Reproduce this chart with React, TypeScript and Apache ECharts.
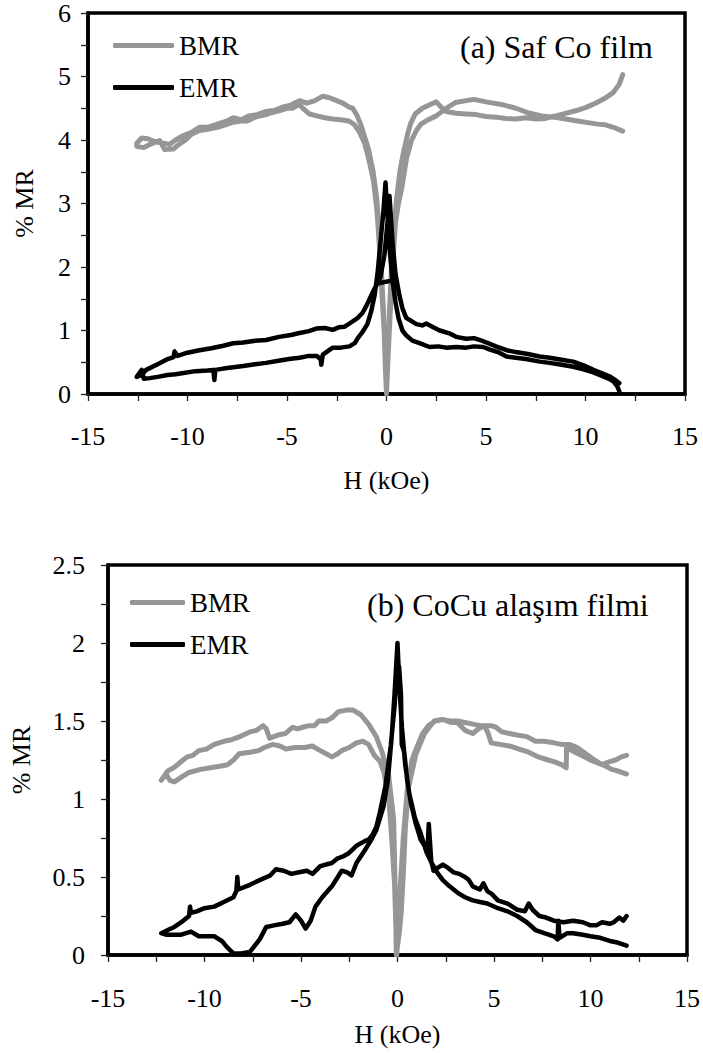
import React, { useEffect, useRef } from "react";
import * as echarts from "echarts";

// ---------- data: H (kOe), %MR ----------
const seriesNames = ["BMR", "EMR"];
const titleA = "(a) Saf Co film";
const titleB = "(b) CoCu alaşım filmi";
const xName = "H (kOe)";
const yName = "% MR";

// (a) top chart, BMR: sweep from +H to -H, then back
const tBmrDown: [number, number][] = [
  [11.87, 5.03], [11.7, 4.88], [11.4, 4.75], [11.0, 4.66], [10.5, 4.58], [10.0, 4.51], [9.5, 4.46],
  [9.0, 4.42], [8.5, 4.38], [8.0, 4.34], [7.5, 4.33], [7.0, 4.35], [6.5, 4.33], [6.0, 4.34], [5.5, 4.36],
  [5.0, 4.37], [4.5, 4.4], [4.0, 4.41], [3.5, 4.42], [3.0, 4.45], [2.8, 4.5], [2.5, 4.6], [2.2, 4.56],
  [1.8, 4.5], [1.44, 4.41], [1.2, 4.25], [1.06, 4.09], [0.85, 3.8], [0.67, 3.5], [0.5, 3.05], [0.38, 2.63],
  [0.25, 2.0], [0.15, 1.3], [0.05, 0.4], [0.0, 0.0], [-0.05, 0.35], [-0.12, 1.0], [-0.23, 1.58],
  [-0.35, 2.3], [-0.48, 2.89], [-0.65, 3.35], [-0.87, 3.67], [-1.1, 3.95], [-1.35, 4.12], [-1.6, 4.24],
  [-1.9, 4.3], [-2.3, 4.32], [-2.7, 4.33], [-3.1, 4.35], [-3.5, 4.38], [-3.87, 4.41], [-4.1, 4.47],
  [-4.4, 4.56], [-4.7, 4.5], [-5.0, 4.5], [-5.4, 4.46], [-5.8, 4.43], [-6.05, 4.4], [-6.6, 4.36],
  [-7.0, 4.3], [-7.3, 4.3], [-7.7, 4.28], [-8.1, 4.24], [-8.5, 4.2], [-9.0, 4.17], [-9.4, 4.15],
  [-9.8, 4.09], [-10.1, 4.0], [-10.4, 3.94], [-10.7, 3.86], [-11.15, 3.85], [-11.4, 3.99], [-11.9, 3.93],
  [-12.2, 3.88], [-12.55, 3.9],
];
const tBmrUp: [number, number][] = [
  [-12.55, 3.95], [-12.3, 4.03], [-12.0, 4.02], [-11.6, 3.97], [-11.2, 3.95], [-10.9, 3.93], [-10.6, 4.0],
  [-10.2, 4.07], [-9.8, 4.12], [-9.4, 4.2], [-9.0, 4.2], [-8.5, 4.25], [-8.0, 4.3], [-7.7, 4.35],
  [-7.3, 4.32], [-6.9, 4.38], [-6.5, 4.4], [-6.05, 4.45], [-5.6, 4.47], [-5.2, 4.52], [-4.8, 4.55],
  [-4.37, 4.62], [-4.0, 4.58], [-3.6, 4.62], [-3.2, 4.69], [-2.9, 4.67], [-2.5, 4.62], [-2.2, 4.58],
  [-1.9, 4.52], [-1.7, 4.5], [-1.5, 4.4], [-1.3, 4.25], [-1.1, 4.05], [-0.9, 3.85], [-0.67, 3.5],
  [-0.5, 3.1], [-0.38, 2.63], [-0.25, 1.9], [-0.15, 1.3], [-0.06, 0.5], [0.0, 0.0], [0.08, 0.6],
  [0.19, 1.3], [0.3, 2.0], [0.45, 2.7], [0.6, 3.0], [0.77, 3.25], [1.0, 3.7], [1.25, 3.99], [1.5, 4.15],
  [1.73, 4.25], [2.1, 4.32], [2.5, 4.38], [3.0, 4.5], [3.46, 4.59], [4.0, 4.62], [4.4, 4.64], [5.0, 4.6],
  [5.77, 4.56], [6.5, 4.5], [7.1, 4.43], [7.8, 4.38], [8.4, 4.36], [9.0, 4.33], [9.6, 4.3], [10.2, 4.27],
  [10.6, 4.25], [11.0, 4.24], [11.4, 4.2], [11.87, 4.14],
];

// (a) top chart, EMR
const tEmrDown: [number, number][] = [
  [11.7, 0.17], [11.5, 0.22], [11.2, 0.28], [10.8, 0.33], [10.4, 0.38], [9.9, 0.45], [9.38, 0.51],
  [8.8, 0.54], [8.2, 0.57], [7.7, 0.59], [7.1, 0.63], [6.5, 0.66], [6.03, 0.69], [5.5, 0.75], [5.1, 0.8],
  [4.7, 0.85], [4.4, 0.88], [4.0, 0.87], [3.5, 0.9], [3.2, 0.95], [2.9, 0.98], [2.67, 1.0], [2.3, 1.06],
  [2.0, 1.11], [1.8, 1.08], [1.5, 1.1], [1.2, 1.16], [0.99, 1.2], [0.8, 1.35], [0.65, 1.55], [0.45, 1.9],
  [0.3, 2.4], [0.15, 3.12], [0.05, 2.7], [-0.1, 2.2], [-0.3, 1.85], [-0.45, 1.74], [0.3, 1.79],
  [-0.45, 1.74], [-0.6, 1.66], [-0.77, 1.55], [-0.96, 1.42], [-1.2, 1.28], [-1.44, 1.2], [-1.86, 1.11],
  [-2.1, 1.06], [-2.4, 1.05], [-2.7, 1.01], [-3.1, 1.04], [-3.53, 1.03], [-3.9, 0.99], [-4.37, 0.96],
  [-4.8, 0.93], [-5.4, 0.9], [-6.05, 0.85], [-6.6, 0.84], [-7.2, 0.81], [-7.7, 0.8], [-8.2, 0.76],
  [-8.8, 0.72], [-9.4, 0.69], [-10.0, 0.65], [-10.5, 0.6], [-10.65, 0.67], [-10.7, 0.58], [-11.07, 0.54],
  [-11.5, 0.47], [-12.08, 0.38], [-12.3, 0.3], [-12.55, 0.27],
];
const tEmrUp: [number, number][] = [
  [-12.55, 0.27], [-12.3, 0.38], [-12.2, 0.24], [-11.9, 0.25], [-11.5, 0.27], [-11.0, 0.3], [-10.6, 0.31],
  [-10.2, 0.33], [-9.6, 0.36], [-9.0, 0.37], [-8.7, 0.38], [-8.65, 0.22], [-8.6, 0.38], [-8.2, 0.4],
  [-7.7, 0.42], [-7.2, 0.44], [-6.6, 0.47], [-6.05, 0.49], [-5.5, 0.52], [-4.9, 0.55], [-4.37, 0.57],
  [-3.9, 0.6], [-3.5, 0.6], [-3.3, 0.54], [-3.28, 0.46], [-3.2, 0.62], [-2.7, 0.73], [-2.3, 0.73],
  [-1.86, 0.75], [-1.6, 0.8], [-1.44, 0.88], [-1.2, 0.98], [-0.96, 1.1], [-0.77, 1.3], [-0.6, 1.55],
  [-0.45, 1.9], [-0.3, 2.4], [-0.15, 2.9], [-0.05, 3.33], [0.05, 2.8], [0.15, 2.3], [0.3, 1.79],
  [0.45, 1.45], [0.6, 1.2], [0.8, 1.0], [1.0, 0.92], [1.3, 0.84], [1.66, 0.8], [2.16, 0.74], [2.6, 0.75],
  [3.0, 0.73], [3.5, 0.74], [4.0, 0.73], [4.4, 0.75], [4.86, 0.74], [5.2, 0.7], [5.6, 0.66], [6.03, 0.59],
  [6.5, 0.57], [7.0, 0.55], [7.7, 0.51], [8.2, 0.49], [8.8, 0.46], [9.38, 0.43], [9.9, 0.39], [10.3, 0.35],
  [10.7, 0.3], [11.1, 0.25], [11.4, 0.2], [11.6, 0.12], [11.7, 0.04],
];

// (b) bottom chart, BMR
const bBmrDown: [number, number][] = [
  [11.87, 1.28], [11.6, 1.27], [11.3, 1.25], [11.0, 1.24], [10.6, 1.22], [10.2, 1.25], [9.65, 1.3],
  [9.3, 1.33], [8.9, 1.35], [8.5, 1.35], [8.1, 1.36], [7.6, 1.37], [7.15, 1.37], [6.7, 1.4], [6.2, 1.41],
  [5.8, 1.42], [5.4, 1.43], [5.1, 1.46], [4.85, 1.47], [4.5, 1.47], [4.27, 1.47], [3.9, 1.48], [3.5, 1.49],
  [3.1, 1.5], [2.73, 1.5], [2.3, 1.51], [1.9, 1.5], [1.4, 1.42], [0.96, 1.29], [0.56, 1.07], [0.4, 0.8],
  [0.31, 0.54], [0.19, 0.27], [0.1, 0.15], [-0.06, 0.0], [-0.1, 0.3], [-0.2, 0.87], [-0.46, 1.15],
  [-0.8, 1.3], [-1.1, 1.4], [-1.5, 1.48], [-1.9, 1.54], [-2.3, 1.57], [-2.65, 1.57], [-3.06, 1.56],
  [-3.4, 1.52], [-3.7, 1.5], [-4.08, 1.5], [-4.3, 1.47], [-4.6, 1.47], [-4.9, 1.46], [-5.2, 1.45],
  [-5.44, 1.46], [-5.8, 1.42], [-6.2, 1.41], [-6.63, 1.39], [-6.8, 1.45], [-6.97, 1.47], [-7.3, 1.44],
  [-7.65, 1.43], [-8.16, 1.4], [-8.6, 1.38], [-9.0, 1.37], [-9.5, 1.35], [-9.9, 1.32], [-10.3, 1.31],
  [-10.6, 1.28], [-10.9, 1.27], [-11.2, 1.24], [-11.6, 1.2], [-11.9, 1.18], [-12.24, 1.12],
];
const bBmrUp: [number, number][] = [
  [-12.24, 1.12], [-12.0, 1.16], [-11.8, 1.12], [-11.56, 1.11], [-11.2, 1.14], [-10.8, 1.17],
  [-10.2, 1.19], [-9.7, 1.2], [-9.2, 1.21], [-8.8, 1.22], [-8.5, 1.25], [-8.2, 1.29], [-7.65, 1.3],
  [-7.2, 1.31], [-6.9, 1.33], [-6.46, 1.35], [-6.1, 1.34], [-5.78, 1.32], [-5.3, 1.33], [-4.8, 1.33],
  [-4.42, 1.34], [-4.0, 1.31], [-3.7, 1.29], [-3.4, 1.27], [-3.1, 1.29], [-2.89, 1.31], [-2.5, 1.33],
  [-2.13, 1.36], [-1.8, 1.37], [-1.5, 1.35], [-1.2, 1.28], [-0.9, 1.24], [-0.7, 1.17], [-0.45, 1.0],
  [-0.3, 0.75], [-0.15, 0.45], [-0.04, 0.0], [0.05, 0.2], [0.15, 0.45], [0.3, 0.75], [0.5, 1.05],
  [0.75, 1.25], [1.0, 1.33], [1.3, 1.42], [1.6, 1.47], [1.96, 1.5], [2.35, 1.51], [2.8, 1.49], [3.1, 1.49],
  [3.5, 1.44], [3.9, 1.42], [4.2, 1.45], [4.5, 1.47], [4.7, 1.42], [4.85, 1.36], [5.3, 1.35], [5.8, 1.34],
  [6.3, 1.32], [6.8, 1.3], [7.3, 1.27], [7.8, 1.25], [8.1, 1.24], [8.5, 1.22], [8.74, 1.2], [8.76, 1.33],
  [9.2, 1.3], [9.7, 1.27], [10.0, 1.25], [10.4, 1.23], [10.8, 1.21], [11.1, 1.19], [11.4, 1.18],
  [11.87, 1.16],
];

// (b) bottom chart, EMR
const bEmrDown: [number, number][] = [
  [11.87, 0.25], [11.7, 0.22], [11.5, 0.24], [11.2, 0.21], [11.0, 0.2], [10.6, 0.21], [10.3, 0.19],
  [10.0, 0.19], [9.6, 0.21], [9.1, 0.22], [8.6, 0.21], [8.1, 0.22], [7.7, 0.24], [7.35, 0.25], [7.0, 0.29],
  [6.8, 0.33], [6.6, 0.28], [6.2, 0.29], [5.7, 0.33], [5.2, 0.35], [4.9, 0.39], [4.65, 0.41], [4.45, 0.46],
  [4.27, 0.42], [3.9, 0.44], [3.7, 0.48], [3.5, 0.5], [3.2, 0.52], [2.9, 0.53], [2.6, 0.56], [2.35, 0.58],
  [2.1, 0.56], [1.87, 0.54], [1.75, 0.6], [1.62, 0.84], [1.55, 0.66], [1.4, 0.7], [1.2, 0.74],
  [0.95, 0.84], [0.7, 0.97], [0.5, 1.12], [0.35, 1.3], [0.22, 1.35], [0.18, 1.67], [0.08, 1.85],
  [-0.05, 1.8], [-0.15, 1.6], [-0.35, 1.34], [-0.63, 1.08], [-0.92, 0.91], [-1.1, 0.82], [-1.3, 0.77],
  [-1.5, 0.74], [-1.7, 0.73], [-2.13, 0.7], [-2.55, 0.65], [-2.85, 0.63], [-3.1, 0.62], [-3.4, 0.59],
  [-3.7, 0.58], [-4.0, 0.57], [-4.4, 0.52], [-4.7, 0.54], [-5.1, 0.53], [-5.5, 0.52], [-5.9, 0.54],
  [-6.3, 0.55], [-6.6, 0.51], [-7.14, 0.48], [-7.65, 0.45], [-8.25, 0.42], [-8.3, 0.5], [-8.35, 0.41],
  [-8.5, 0.37], [-9.0, 0.34], [-9.5, 0.31], [-10.0, 0.3], [-10.4, 0.28], [-10.7, 0.27], [-10.75, 0.31],
  [-10.8, 0.25], [-11.2, 0.21], [-11.56, 0.18], [-11.9, 0.16], [-12.24, 0.14],
];
const bEmrUp: [number, number][] = [
  [-12.24, 0.14], [-12.0, 0.13], [-11.56, 0.13], [-11.2, 0.13], [-10.7, 0.15], [-10.3, 0.12],
  [-9.9, 0.12], [-9.5, 0.12], [-9.1, 0.09], [-8.84, 0.05], [-8.5, 0.01], [-8.1, 0.01], [-7.65, 0.02],
  [-7.14, 0.1], [-6.8, 0.18], [-6.4, 0.19], [-5.95, 0.2], [-5.6, 0.21], [-5.27, 0.26], [-5.0, 0.22],
  [-4.76, 0.17], [-4.5, 0.22], [-4.25, 0.31], [-3.9, 0.37], [-3.4, 0.44], [-2.89, 0.54], [-2.6, 0.53],
  [-2.38, 0.51], [-2.13, 0.59], [-1.7, 0.67], [-1.4, 0.73], [-1.1, 0.8], [-0.73, 0.95], [-0.5, 1.12],
  [-0.3, 1.4], [-0.15, 1.68], [0.0, 2.0], [0.1, 1.72], [0.23, 1.46], [0.4, 1.22], [0.6, 1.04],
  [0.9, 0.88], [1.2, 0.78], [1.5, 0.66], [1.77, 0.59], [2.05, 0.53], [2.35, 0.48], [2.7, 0.44], [3.1, 0.4],
  [3.5, 0.37], [3.9, 0.35], [4.27, 0.34], [4.65, 0.33], [5.2, 0.3], [5.7, 0.28], [6.2, 0.25], [6.7, 0.21],
  [7.15, 0.16], [7.6, 0.14], [8.1, 0.12], [8.3, 0.1], [8.33, 0.22], [8.4, 0.11], [8.8, 0.14], [9.1, 0.14],
  [9.6, 0.13], [10.0, 0.12], [10.5, 0.11], [11.0, 0.09], [11.4, 0.08], [11.87, 0.06],
];

// axis ranges
const xRange = [-15, 15, 5];
const yRangeA = [0, 6, 1];
const yRangeB = [0, 2.5, 0.5];

const FONT = "Liberation Serif";
const GRAY = "#969696";
const BLACK = "#000000";

function xAxisOf(gridIndex: number, margin: number, nameGap: number) {
  return {
    type: "value",
    gridIndex,
    min: xRange[0],
    max: xRange[1],
    interval: xRange[2],
    axisLine: { show: true, onZero: false, lineStyle: { color: "#000", width: 3.5 } },
    axisTick: { show: true, length: 7, lineStyle: { color: "#222", width: 1.3 } },
    minorTick: { show: true, splitNumber: 2, length: 7, lineStyle: { color: "#222", width: 1.3 } },
    splitLine: { show: false },
    axisLabel: { fontFamily: FONT, fontSize: 26, color: "#000", margin },
    name: xName,
    nameLocation: "middle",
    nameGap,
    nameTextStyle: { fontFamily: FONT, fontSize: 26, color: "#000" },
  };
}

function yAxisOf(gridIndex: number, r: number[], margin: number, nameGap: number) {
  return {
    type: "value",
    gridIndex,
    min: r[0],
    max: r[1],
    interval: r[2],
    axisLine: { show: true, onZero: false, lineStyle: { color: "#000", width: 3.5 } },
    axisTick: { show: true, length: 7, lineStyle: { color: "#222", width: 1.3 } },
    minorTick: { show: true, splitNumber: 2, length: 7, lineStyle: { color: "#222", width: 1.3 } },
    splitLine: { show: false },
    axisLabel: { fontFamily: FONT, fontSize: 26, color: "#000", margin },
    name: yName,
    nameLocation: "middle",
    nameGap,
    nameTextStyle: { fontFamily: FONT, fontSize: 26, color: "#000" },
  };
}

function lineSeries(name: string, gridIdx: number, data: [number, number][], color: string, width: number) {
  return {
    name,
    type: "line",
    xAxisIndex: gridIdx,
    yAxisIndex: gridIdx,
    data,
    showSymbol: false,
    symbol: "none",
    smooth: false,
    color,
    lineStyle: { color, width, cap: "round", join: "round" },
    emphasis: { disabled: true },
  };
}

function legendOf(left: number, top: number, itemWidth: number) {
  return {
    data: seriesNames,
    orient: "vertical",
    left,
    top,
    padding: 0,
    itemWidth,
    itemHeight: 5,
    itemGap: 15,
    icon: "roundRect",
    selectedMode: false,
    textStyle: { fontFamily: FONT, fontSize: 27, color: "#000", lineHeight: 27 },
  };
}

export default function App() {
  const ref = useRef<HTMLDivElement>(null);
  useEffect(() => {
    document.body.style.margin = "0";
    if (!ref.current) return;
    const chart = echarts.init(ref.current, null, { renderer: "svg" });
    const option: any = {
      animation: false,
      backgroundColor: "#fff",
      title: [
        {
          text: titleA, left: 460, top: 31, padding: 0,
          textStyle: { fontFamily: FONT, fontSize: 32, fontWeight: "normal", color: "#000" },
        },
      ],
      legend: [legendOf(113, 32, 61), legendOf(130, 589, 55)],
      grid: [
        { left: 88, top: 12, width: 597, height: 382, show: true, borderColor: "#000", borderWidth: 3.5, backgroundColor: "transparent" },
        { left: 106, top: 565, width: 587, height: 390, show: true, borderColor: "#000", borderWidth: 3.5, backgroundColor: "transparent" },
      ],
      xAxis: [xAxisOf(0, 29, 73), xAxisOf(1, 30, 66)],
      yAxis: [yAxisOf(0, yRangeA, 17, 51), yAxisOf(1, yRangeB, 23, 74)],
      series: [
        lineSeries(seriesNames[0], 0, [...tBmrDown, ...tBmrUp], GRAY, 5),
        lineSeries(seriesNames[1], 0, [...tEmrDown, ...tEmrUp], BLACK, 4.5),
        lineSeries(seriesNames[0], 1, [...bBmrDown, ...bBmrUp], GRAY, 5),
        lineSeries(seriesNames[1], 1, [...bEmrDown, ...bEmrUp], BLACK, 4.5),
      ],
    };
    chart.setOption(option);
    return () => chart.dispose();
  }, []);
  return (
    <div>
      <div ref={ref} style={{ width: 703, height: 1053, position: "absolute", left: 0, top: 0 }} />
      <div
        style={{
          position: "absolute",
          left: 367,
          top: 589,
          fontFamily: "'Liberation Serif', serif",
          fontSize: 32,
          lineHeight: "32px",
          whiteSpace: "nowrap",
          color: "#000",
        }}
      >
        {titleB}
      </div>
    </div>
  );
}
